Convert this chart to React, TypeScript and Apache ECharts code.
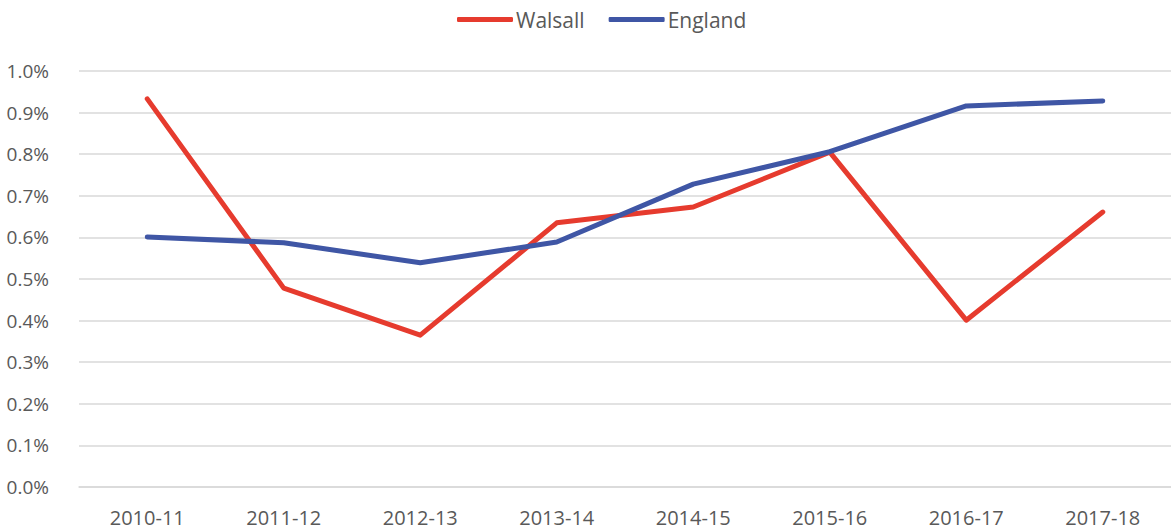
import React, { useEffect, useRef } from "react";
import * as echarts from "echarts";

const categories = ["2010-11", "2011-12", "2012-13", "2013-14", "2014-15", "2015-16", "2016-17", "2017-18"];
const walsall = [0.933, 0.478, 0.365, 0.635, 0.673, 0.805, 0.401, 0.661];
const england = [0.601, 0.587, 0.539, 0.589, 0.728, 0.806, 0.916, 0.928];

const FONT = "'Open Sans', 'Liberation Sans', sans-serif";

export default function App() {
  const ref = useRef<HTMLDivElement>(null);
  useEffect(() => {
    document.body.style.margin = "0";
    const chart = echarts.init(ref.current!, null, { renderer: "svg" });
    chart.setOption({
      animation: false,
      textStyle: { fontFamily: FONT },
      legend: {
        top: 4,
        left: 452,
        itemWidth: 56,
        itemHeight: 5,
        itemGap: 24,
        icon: "roundRect",
        textStyle: { fontSize: 21, color: "#595959", fontFamily: FONT, padding: [0, 0, 0, -2] },
        data: ["Walsall", "England"],
      },
      grid: { left: 79, right: 0, top: 71, bottom: 43 },
      xAxis: {
        type: "category",
        data: categories,
        boundaryGap: true,
        axisLine: { lineStyle: { color: "#d9d9d9", width: 1.5 } },
        axisTick: { show: false },
        axisLabel: { fontSize: 20, color: "#595959", margin: 20, fontFamily: FONT },
      },
      yAxis: {
        type: "value",
        min: 0,
        max: 1,
        interval: 0.1,
        axisLine: { show: false },
        axisTick: { show: false },
        splitLine: { lineStyle: { color: "#d9d9d9", width: 1.5 } },
        axisLabel: {
          fontSize: 19,
          color: "#595959",
          margin: 30,
          fontFamily: FONT,
          formatter: (v: number) => v.toFixed(1) + "%",
        },
      },
      series: [
        {
          name: "Walsall",
          type: "line",
          data: walsall,
          symbol: "none",
          lineStyle: { color: "#E63B2E", width: 5, cap: "round", join: "round" },
          itemStyle: { color: "#E63B2E" },
        },
        {
          name: "England",
          type: "line",
          data: england,
          symbol: "none",
          lineStyle: { color: "#3F56A5", width: 5, cap: "round", join: "round" },
          itemStyle: { color: "#3F56A5" },
        },
      ],
    });
    return () => chart.dispose();
  }, []);
  return <div ref={ref} style={{ width: 1171, height: 530 }} />;
}
